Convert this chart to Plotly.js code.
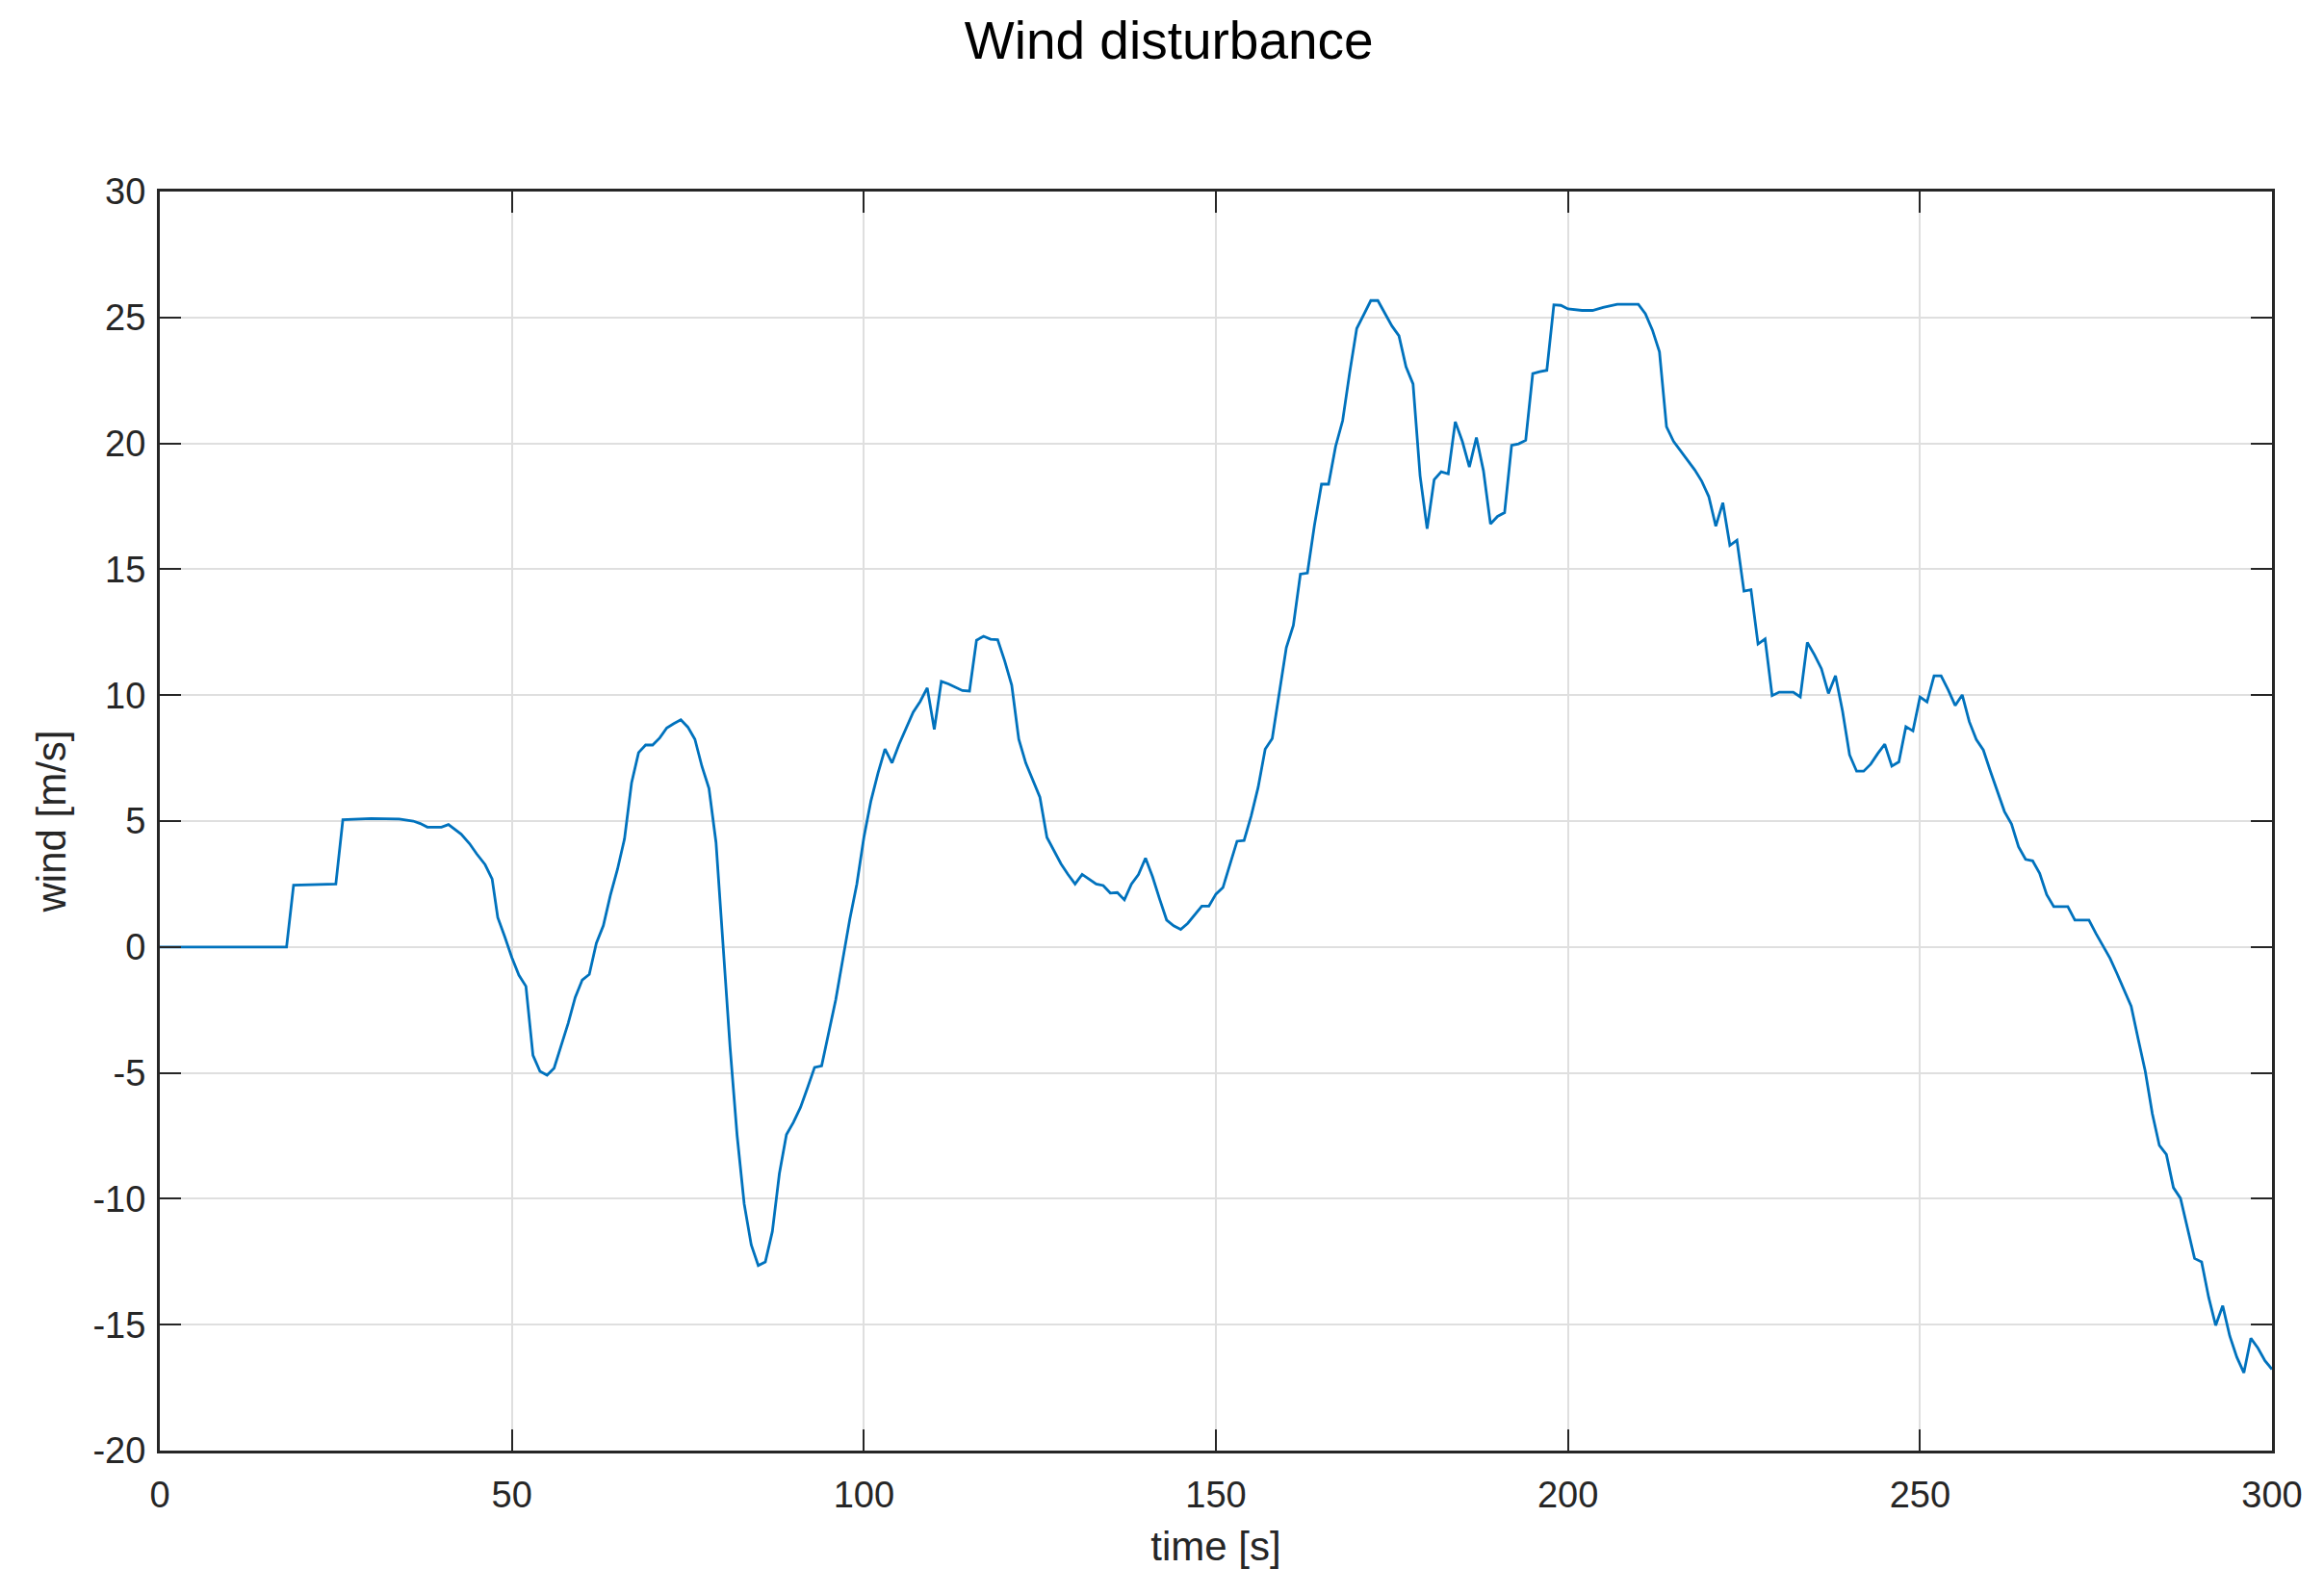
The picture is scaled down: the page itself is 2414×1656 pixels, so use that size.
<!DOCTYPE html>
<html>
<head>
<meta charset="utf-8">
<script src="https://cdn.plot.ly/plotly-3.0.1.min.js"></script>
<style>
  html, body { margin: 0; padding: 0; background: #ffffff; }
  #chart { width: 2414px; height: 1656px; }
</style>
</head>
<body>
<div id="chart"></div>
<script>
// time [s]
const timeS = [
  0, 18, 19, 25, 26, 30, 34, 36, 37, 38, 40, 41, 42.8, 44, 45, 46.2, 47.2, 48, 49, 50,
  51, 52, 53, 54, 55, 56, 57, 58, 59, 60, 61, 62, 63, 64, 65, 66, 67, 68, 69, 70,
  71, 72, 73, 74, 75, 76, 77, 78, 79, 80, 81, 82, 83, 84, 85, 86, 87, 88, 89, 90,
  91, 92, 93, 94, 95, 96, 97, 98, 99, 100, 101, 102, 103, 104, 105, 106, 107, 108, 109, 110,
  111, 112, 113, 114, 115, 116, 117, 118, 119, 120, 121, 122, 123, 124, 125, 126, 127, 128, 129, 130,
  131, 132, 133, 134, 135, 136, 137, 138, 139, 140, 141, 142, 143, 144, 145, 146, 147, 148, 149, 150,
  151, 152, 153, 154, 155, 156, 157, 158, 159, 160, 161, 162, 163, 164, 165, 166, 167, 168, 169, 170,
  171, 172, 173, 174, 175, 176, 177, 178, 179, 180, 181, 182, 183, 184, 185, 186, 187, 188, 189, 190,
  191, 192, 193, 194, 195, 196, 197, 198, 199, 200, 202, 203.5, 205, 207, 210, 211, 212, 213, 214, 215,
  216, 217, 218, 219, 220, 221, 222, 223, 224, 225, 226, 227, 228, 229, 230, 232, 233, 234, 235, 236,
  237, 238, 239, 240, 241, 242, 243, 244, 245, 246, 247, 248, 249, 250, 251, 252, 253, 254, 255, 256,
  257, 258, 259, 260, 261, 262, 263, 264, 265, 266, 267, 268, 269, 271, 272, 274, 275, 276, 277, 278,
  279, 280, 281, 282, 283, 284, 285, 286, 287, 288, 289, 290, 291, 292, 293, 294, 295, 296, 297, 298,
  299, 300
];

// wind [m/s]
const windMs = [
  0, 0, 2.45, 2.5, 5.05, 5.1, 5.08, 5.0, 4.9, 4.76, 4.76, 4.86, 4.48, 4.1, 3.7, 3.27, 2.7, 1.17, 0.4, -0.42,
  -1.12, -1.56, -4.3, -4.94, -5.09, -4.81, -3.92, -3.03, -2.0, -1.31, -1.09, 0.15, 0.85, 2.06, 3.08, 4.29, 6.51, 7.72, 8.02, 8.02,
  8.3, 8.7, 8.87, 9.02, 8.73, 8.25, 7.17, 6.3, 4.15, -0.14, -4.0, -7.5, -10.2, -11.83, -12.65, -12.51, -11.3, -9.0, -7.45, -6.96,
  -6.37, -5.59, -4.78, -4.72, -3.45, -2.1, -0.5, 1.1, 2.5, 4.35, 5.8, 6.9, 7.86, 7.31, 8.05, 8.7, 9.32, 9.75, 10.29, 8.64,
  10.55, 10.45, 10.3, 10.18, 10.16, 12.18, 12.34, 12.22, 12.2, 11.36, 10.4, 8.25, 7.3, 6.6, 5.95, 4.35, 3.8, 3.3, 2.88, 2.5,
  2.88, 2.7, 2.5, 2.44, 2.14, 2.16, 1.87, 2.5, 2.88, 3.53, 2.79, 1.91, 1.07, 0.84, 0.7, 0.94, 1.27, 1.62, 1.62, 2.1,
  2.36, 3.27, 4.2, 4.23, 5.2, 6.34, 7.86, 8.28, 10.14, 11.89, 12.77, 14.81, 14.85, 16.76, 18.38, 18.38, 19.88, 20.9, 22.81, 24.56,
  25.11, 25.67, 25.67, 25.18, 24.66, 24.27, 23.04, 22.36, 18.71, 16.61, 18.56, 18.87, 18.79, 20.86, 20.08, 19.06, 20.23, 18.91, 16.8, 17.1,
  17.25, 19.92, 19.98, 20.12, 22.77, 22.85, 22.9, 25.5, 25.48, 25.34, 25.28, 25.28, 25.4, 25.52, 25.52, 25.15, 24.5, 23.63, 20.66, 20.08,
  19.69, 19.3, 18.95, 18.5, 17.89, 16.71, 17.64, 15.95, 16.15, 14.13, 14.19, 12.03, 12.23, 9.98, 10.12, 10.12, 9.93, 12.09, 11.61, 11.05,
  10.07, 10.77, 9.37, 7.63, 6.98, 6.98, 7.26, 7.68, 8.05, 7.18, 7.35, 8.75, 8.58, 9.93, 9.73, 10.77, 10.77, 10.21, 9.59, 10.01,
  8.95, 8.24, 7.82, 6.98, 6.14, 5.38, 4.88, 3.98, 3.48, 3.42, 2.92, 2.08, 1.6, 1.6, 1.07, 1.07, 0.53, 0.06, -0.45, -1.07,
  -1.71, -2.36, -3.67, -4.94, -6.62, -7.88, -8.24, -9.56, -9.98, -11.19, -12.37, -12.51, -13.91, -15.03, -14.25, -15.45, -16.29, -16.91, -15.54, -15.93,
  -16.43, -16.77
];

const xTicks = [0, 50, 100, 150, 200, 250, 300];
const yTicks = [-20, -15, -10, -5, 0, 5, 10, 15, 20, 25, 30];

const axisColor = '#262626';
const fontFam = 'Arial, "Liberation Sans", Helvetica, sans-serif';

const trace = {
  x: timeS,
  y: windMs,
  type: 'scatter',
  mode: 'lines',
  line: { color: '#0072BD', width: 2.8 },
  hoverinfo: 'x+y'
};

const commonAxis = {
  showline: true,
  linecolor: axisColor,
  linewidth: 3,
  mirror: 'ticks',
  ticks: 'inside',
  ticklen: 22,
  tickwidth: 2,
  tickcolor: axisColor,
  showgrid: true,
  gridcolor: '#dfdfdf',
  gridwidth: 2,
  zeroline: false,
  tickfont: { family: fontFam, size: 38, color: axisColor },
  automargin: false
};

const layout = {
  width: 2414,
  height: 1656,
  paper_bgcolor: '#ffffff',
  plot_bgcolor: '#ffffff',
  margin: { l: 166, r: 54, t: 199, b: 149 },
  showlegend: false,
  title: {
    text: 'Wind disturbance',
    font: { family: fontFam, size: 55, color: '#000000' },
    xref: 'container', x: 0.503, xanchor: 'center',
    yref: 'container', y: 1 - 42 / 1656, yanchor: 'middle'
  },
  xaxis: Object.assign({}, commonAxis, {
    range: [0, 300],
    tickmode: 'array',
    tickvals: xTicks,
    ticktext: xTicks.map(String),
    ticklabelstandoff: 10,
    title: { text: 'time [s]', font: { family: fontFam, size: 42, color: axisColor }, standoff: 20 }
  }),
  yaxis: Object.assign({}, commonAxis, {
    range: [-20, 30],
    tickmode: 'array',
    tickvals: yTicks,
    ticktext: yTicks.map(String),
    ticklabelstandoff: 4,
    title: { text: 'wind [m/s]', font: { family: fontFam, size: 42, color: axisColor }, standoff: 15 }
  })
};

Plotly.newPlot('chart', [trace], layout, { staticPlot: true, displayModeBar: false });
</script>
</body>
</html>
